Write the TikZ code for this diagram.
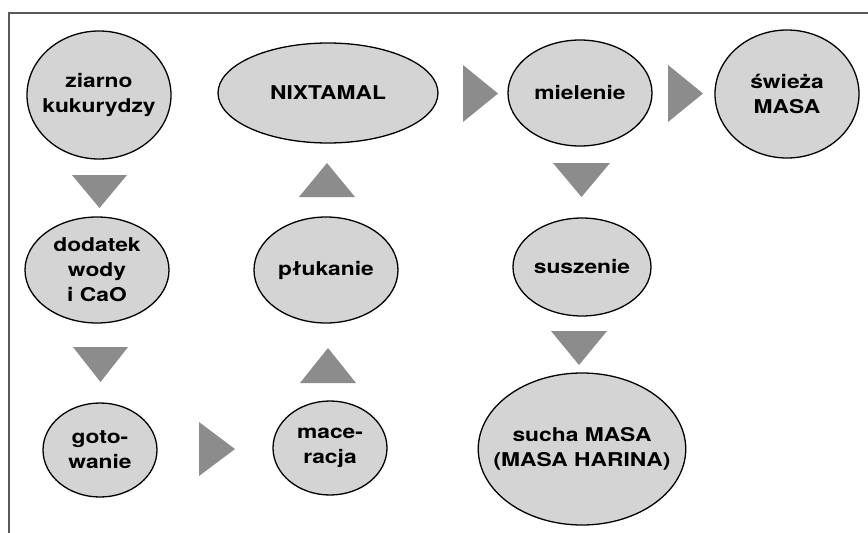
\documentclass[tikz,border=0pt]{standalone}
\usepackage{fontspec}
\setmainfont{TeX Gyre Heros}[FakeStretch=1.2]
\usepackage{xcolor}
\usetikzlibrary{shapes.geometric}
\definecolor{step_gray}{gray}{0.83}
\definecolor{tri_gray}{gray}{0.55}
\definecolor{frame_gray}{gray}{0.35}
\tikzset{
    step_node/.style={ellipse, draw=black, line width=1.3pt, fill=step_gray, inner sep=-15pt, align=center, font=\fontsize{19}{25}\selectfont\bfseries},
    round_step/.style={step_node, minimum width=144pt, minimum height=128pt},
    mid_step/.style={step_node, minimum width=144pt, minimum height=106pt},
    small_step/.style={step_node, minimum width=114pt, minimum height=94pt},
    tri_arrow/.style={fill=tri_gray, draw=none},
    frame_line/.style={draw=frame_gray, line width=2pt}
}
\begin{document}
\begin{tikzpicture}[x=1pt, y=-1pt]
    \useasboundingbox (0,0) rectangle (868,533);
    \fill[white] (0,0) rectangle (868,533);
    \draw[frame_line] (9,540) -- (9,13) -- (875,13);
    \node[round_step] (ziarno) at (99,95) {ziarno\\kukurydzy};
    \node[step_node, minimum width=220pt, minimum height=100pt] (nixtamal) at (328,93) {NIXTAMAL};
    \node[mid_step] (mielenie) at (580,93) {mielenie};
    \node[round_step] (swieza) at (787,94) {świeża\\MASA};
    \node[mid_step] (dodatek) at (97,270) {dodatek\\wody\\i CaO};
    \node[mid_step] (plukanie) at (326,270) {płukanie};
    \node[step_node, minimum width=138pt, minimum height=98pt] (suszenie) at (582,267) {suszenie};
    \node[small_step] (gotowanie) at (100,450) {goto-\\wanie};
    \node[small_step] (maceracja) at (330,448) {mace-\\racja};
    \node[step_node, minimum width=204pt, minimum height=152pt] (sucha) at (582,449) {sucha MASA\\(MASA HARINA)};
    \fill[tri_arrow] (72,175) -- (127,175) -- (99.5,208) -- cycle;
    \fill[tri_arrow] (73,347) -- (128,347) -- (100.5,382) -- cycle;
    \fill[tri_arrow] (199,422) -- (199,476) -- (235,449) -- cycle;
    \fill[tri_arrow] (300,383) -- (356,383) -- (328,348) -- cycle;
    \fill[tri_arrow] (299,197) -- (355,197) -- (327,163) -- cycle;
    \fill[tri_arrow] (463,65) -- (463,122) -- (498,93.5) -- cycle;
    \fill[tri_arrow] (668,65) -- (668,122) -- (703,93.5) -- cycle;
    \fill[tri_arrow] (553,163) -- (610,163) -- (581.5,197) -- cycle;
    \fill[tri_arrow] (551,331) -- (607,331) -- (579,365) -- cycle;
\end{tikzpicture}
\end{document}
